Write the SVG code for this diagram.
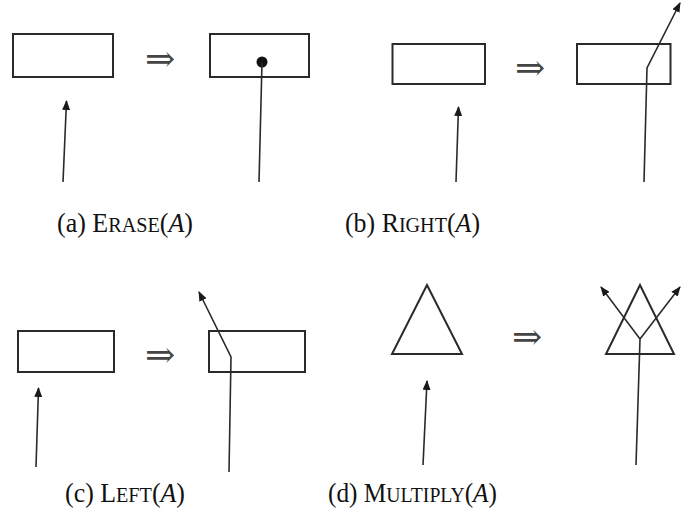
<svg xmlns="http://www.w3.org/2000/svg" width="682" height="529" viewBox="0 0 682 529">
<style>
.box{fill:none;stroke:#2a2a2a;stroke-width:2}
.ln{fill:none;stroke:#2a2a2a;stroke-width:1.6}
.arr{fill:none;stroke:#2a2a2a;stroke-width:1.6;marker-end:url(#ah)}
.imp{font-family:"DejaVu Serif","Liberation Serif",serif;font-size:36px;fill:#444;text-anchor:middle}
.cap{font-family:"Liberation Serif","DejaVu Serif",serif;font-size:27px;fill:#111;text-anchor:middle}
.sc{font-size:21px}
.it{font-style:italic}
</style>
<defs>
<marker id="ah" viewBox="0 0 10 8" refX="9" refY="4" markerWidth="10" markerHeight="8" markerUnits="userSpaceOnUse" orient="auto">
<path d="M0,0 L10,4 L0,8 Z" fill="#1a1a1a"/>
</marker>
</defs>
<rect width="682" height="529" fill="#fff"/>

<!-- (a) Erase -->
<g id="a-before"><rect class="box" x="13" y="34" width="100" height="43"/></g>
<g id="a-implies"><text class="imp" x="160" y="71">⇒</text></g>
<g id="a-after"><rect class="box" x="210" y="34" width="99" height="43"/><circle cx="262" cy="62" r="5.5" fill="#111"/></g>
<g id="a-connectors">
<line class="arr" x1="63" y1="182" x2="66.5" y2="101"/>
<line class="ln" x1="259" y1="182" x2="262" y2="62"/>
</g>
<g id="a-caption"><text class="cap" x="125" y="232" textLength="136" lengthAdjust="spacingAndGlyphs">(a) E<tspan class="sc">RASE</tspan>(<tspan class="it">A</tspan>)</text></g>

<!-- (b) Right -->
<g id="b-before"><rect class="box" x="392.5" y="44" width="92.5" height="40"/></g>
<g id="b-implies"><text class="imp" x="530" y="80">⇒</text></g>
<g id="b-after"><rect class="box" x="577" y="44" width="93.5" height="40"/></g>
<g id="b-connectors">
<line class="arr" x1="456" y1="182" x2="458.5" y2="107"/>
<polyline class="arr" points="644,182 647,68 680,3"/>
</g>
<g id="b-caption"><text class="cap" x="412.5" y="232" textLength="135" lengthAdjust="spacingAndGlyphs">(b) R<tspan class="sc">IGHT</tspan>(<tspan class="it">A</tspan>)</text></g>

<!-- (c) Left -->
<g id="c-before"><rect class="box" x="18" y="331" width="96" height="41"/></g>
<g id="c-implies"><text class="imp" x="160" y="367">⇒</text></g>
<g id="c-after"><rect class="box" x="209" y="331" width="96" height="41"/></g>
<g id="c-connectors">
<line class="arr" x1="36" y1="467" x2="38.5" y2="388"/>
<polyline class="arr" points="229,472 231,357 199,292"/>
</g>
<g id="c-caption"><text class="cap" x="125" y="502" textLength="120" lengthAdjust="spacingAndGlyphs">(c) L<tspan class="sc">EFT</tspan>(<tspan class="it">A</tspan>)</text></g>

<!-- (d) Multiply -->
<g id="d-before"><polygon class="box" points="427,285 392,354 462,354"/></g>
<g id="d-implies"><text class="imp" x="527" y="349">⇒</text></g>
<g id="d-after"><polygon class="box" points="640,285 606,354 674,354"/></g>
<g id="d-connectors">
<line class="arr" x1="423" y1="465" x2="427" y2="381"/>
<line class="ln" x1="636" y1="465" x2="640" y2="339"/>
<polyline class="arr" points="640,339 601,287"/>
<polyline class="arr" points="640,339 680,287"/>
</g>
<g id="d-caption"><text class="cap" x="412.5" y="502" textLength="169" lengthAdjust="spacingAndGlyphs">(d) M<tspan class="sc">ULTIPLY</tspan>(<tspan class="it">A</tspan>)</text></g>
</svg>
